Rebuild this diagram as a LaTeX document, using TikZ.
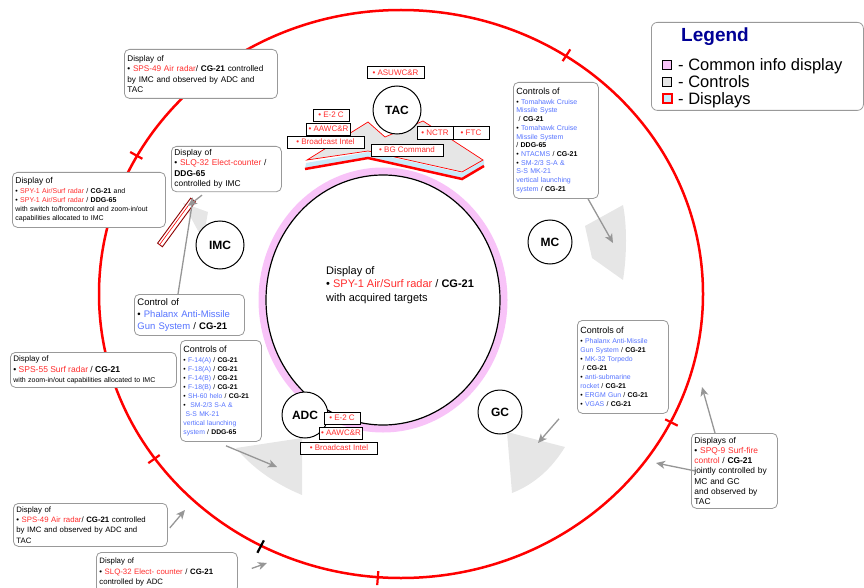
\documentclass[tikz,border=0pt]{standalone}
\usepackage{fontspec}
\setmainfont{Liberation Sans}
\usetikzlibrary{arrows.meta,shapes.geometric,calc}
\definecolor{dred}{RGB}{255,45,45}
\definecolor{cblue}{RGB}{85,115,255}
\definecolor{legblue}{RGB}{0,0,150}
\definecolor{wedgegray}{RGB}{230,230,230}
\definecolor{arrgray}{RGB}{150,150,150}
\definecolor{pinkring}{RGB}{248,195,248}
\definecolor{ltblue}{RGB}{200,235,250}
\definecolor{darkred}{RGB}{140,0,0}
\newcommand\rd[1]{\textcolor{dred}{#1}}
\newcommand\bu[1]{\textcolor{cblue}{#1}}
\newcommand\bb[1]{\textbf{#1}}
\newcommand\fs[2]{\fontsize{#1}{#2}\selectfont}
\begin{document}
\begin{tikzpicture}[x=1pt,y=-1pt,
  callout/.style={draw=gray!80, line width=0.8pt, rounded corners=5pt, fill=white,
    align=left, anchor=north west, inner xsep=3pt, inner ysep=3pt},
  unit/.style={circle, draw=black, line width=1pt, fill=white, minimum size=#1,
    inner sep=0pt, font=\bfseries\fontsize{12}{13}\selectfont},
  lab/.style={draw=black, line width=0.9pt, fill=white, inner xsep=2pt, inner ysep=1.5pt,
    font=\fontsize{8}{9}\selectfont, text=dred},
  garrow/.style={draw=arrgray, line width=1.3pt, -{Stealth[length=9pt,width=8pt,inset=2.5pt]}},
  wedge/.style={fill=wedgegray, draw=none},
  tick/.style={line width=2.2pt},
  legtext/.style={anchor=base west, font=\fontsize{16.5}{18}\selectfont, inner sep=0pt}
]
\useasboundingbox (0,0) rectangle (864,588);

% outer red ellipse
\draw[red, line width=2.5pt] (401,294) ellipse [x radius=302, y radius=284];
\foreach \a in {-56.9,-150.9,144.6,94.4,26.8}
  \draw[tick, red] ($(401,294)+(\a:296 and 278)$) -- ($(401,294)+(\a:310 and 292)$);
\foreach \a in {-123.4,117.6}
  \draw[tick, black] ($(401,294)+(\a:296 and 278)$) -- ($(401,294)+(\a:310 and 292)$);

% wedges (controls)
\fill[wedge] (183,203) -- (208,212) -- (203,240) -- cycle;
\fill[wedge] (585,226) -- (623,205) .. controls (627,225) and (627,255) .. (623,280) -- (592,258) -- cycle;
\fill[wedge] (507,432) -- (565,447) .. controls (552,468) and (535,484) .. (512,493) -- cycle;
\fill[wedge] (236,448) -- (302,438) -- (302,495) .. controls (278,485) and (254,470) .. (236,448) -- cycle;

% central common info display
\draw[pinkring, line width=7pt] (383,300) ellipse [x radius=121, y radius=129];
\draw[black, line width=1.2pt] (383,300) ellipse [x radius=117, y radius=125];
\node[anchor=north west, align=left, font=\fs{11}{13.5}, inner sep=0pt] (center) at (326,266)
  {Display of\\ • \rd{SPY-1 Air/Surf radar} / \bb{CG-21}\\ with acquired targets};

% TAC platform
\fill[ltblue] (306,163) -- (368,152) -- (462,173) -- (484,160) -- (484,166) -- (462,179) -- (368,158) -- (305,169) -- cycle;
\draw[red, line width=2.5pt] (305,169) -- (368,158) -- (462,179) -- (484,166);
\filldraw[fill=wedgegray, draw=red, line width=0.7pt] (307,160) -- (368,122) -- (385,137) -- (423,121) -- (483,160) -- (462,172) -- (368,151) -- cycle;

% IMC display bar
\draw[darkred, line width=0.9pt, fill=white] (157.6,243.2) -- (190.6,198.2) -- (195.4,201.8) -- (162.4,246.8) -- cycle;
\draw[red, line width=0.6pt] (159.6,244.7) -- (192.6,199.7);

% unit circles
\node[unit=48pt] (tac) at (397,110) {TAC};
\node[unit=48pt] (imc) at (220,245) {IMC};
\node[unit=44pt] (mc) at (550,242) {MC};
\node[unit=44pt] (gc) at (500,412) {GC};
\node[unit=46pt] (adc) at (305,415) {ADC};

% TAC labels
\node[lab, minimum width=57pt, minimum height=12pt] (asuwc) at (395.5,72.5) {• ASUWC\&R};
\node[lab, minimum width=36pt, minimum height=12pt] (e2ct) at (331,115) {• E-2 C};
\node[lab, minimum width=43pt, minimum height=12pt] (aawct) at (328.5,129) {• AAWC\&R};
\node[lab, minimum width=77pt, minimum height=12pt] (bit) at (325.5,142) {• Broadcast Intel};
\node[lab, minimum width=72pt, minimum height=12pt] (bgc) at (407,150) {• BG Command};
\node[lab, minimum width=36pt, minimum height=13pt] (nctr) at (435,132.5) {• NCTR};
\node[lab, minimum width=36pt, minimum height=13pt] (ftc) at (471,132.5) {• FTC};

% ADC labels
\node[lab, minimum width=36pt, minimum height=12pt] (e2ca) at (342,418) {• E-2 C};
\node[lab, minimum width=43pt, minimum height=12pt] (aawca) at (341,433) {• AAWC\&R};
\node[lab, minimum width=77pt, minimum height=12pt] (bia) at (339,448) {• Broadcast Intel};

% callouts
\node[callout, text width=147pt, minimum height=49pt, font=\fs{8.2}{10.5}] (sps49t) at (124,49)
  {Display of\\ • \rd{SPS-49 Air radar}/ \bb{CG-21} controlled\\ by IMC and observed by ADC and\\ TAC};
\node[callout, text width=104pt, minimum height=45pt, font=\fs{8.4}{10.5}] (slq32i) at (171,146)
  {Display of\\ • \rd{SLQ-32 Elect-counter} /\\ \bb{DDG-65}\\ controlled by IMC};
\node[callout, text width=147pt, minimum height=55pt, font=\fs{7}{9}] (spy1l) at (12,172)
  {{\fs{8.5}{9}Display of}\\[1pt] • \rd{SPY-1 Air/Surf radar} / \bb{CG-21} and\\ • \rd{SPY-1 Air/Surf radar} / \bb{DDG-65}\\ with switch to/fromcontrol and zoom-in/out\\ capabilities allocated to IMC};
\node[callout, text width=79pt, minimum height=116pt, font=\fs{7}{8.7}] (mcc) at (513,82)
  {{\fs{9}{9}Controls of}\\[1pt] • \bu{Tomahawk Cruise}\\ \bu{Missile Syste}\\ \ / \bb{CG-21}\\ • \bu{Tomahawk Cruise}\\ \bu{Missile System}\\ / \bb{DDG-65}\\ • \bu{NTACMS} / \bb{CG-21}\\ • \bu{SM-2/3 S-A \&}\\ \bu{S-S MK-21}\\ \bu{vertical launching}\\ \bu{system} / \bb{CG-21}};
\node[callout, text width=104pt, minimum height=41pt, font=\fs{9.5}{12}] (phal) at (134,294)
  {Control of\\ • \bu{Phalanx Anti-Missile}\\ \bu{Gun System} / \bb{CG-21}};
\node[callout, text width=75pt, minimum height=101pt, font=\fs{6.8}{9}] (adcc) at (180,340)
  {{\fs{9}{9}Controls of}\\[0.5pt] • \bu{F-14(A)} / \bb{CG-21}\\ • \bu{F-18(A)} / \bb{CG-21}\\ • \bu{F-14(B)} / \bb{CG-21}\\ • \bu{F-18(B)} / \bb{CG-21}\\ • \bu{SH-60 helo} / \bb{CG-21}\\ •\ \ \bu{SM-2/3 S-A \&}\\ \ \bu{S-S MK-21}\\ \bu{vertical launching}\\ \bu{system} / \bb{DDG-65}};
\node[callout, text width=85pt, minimum height=93pt, font=\fs{6.9}{9}] (gcc) at (577,320)
  {{\fs{9}{9}Controls of}\\[1pt] • \bu{Phalanx Anti-Missile}\\ \bu{Gun System} / \bb{CG-21}\\ • \bu{MK-32 Torpedo}\\ \ / \bb{CG-21}\\ • \bu{anti-submarine}\\ \bu{rocket} / \bb{CG-21}\\ • \bu{ERGM Gun} / \bb{CG-21}\\ • \bu{VGAS} / \bb{CG-21}};
\node[callout, text width=160pt, minimum height=35pt, font=\fs{7}{10.5}] (sps55) at (10,352)
  {{\fs{8}{9}Display of}\\ {\fs{8.5}{9}• \rd{SPS-55 Surf radar} / \bb{CG-21}}\\ with zoom-in/out capabilities allocated to IMC};
\node[callout, text width=148pt, minimum height=43pt, font=\fs{7.8}{10.3}] (sps49b) at (13,503)
  {Display of\\ • \rd{SPS-49 Air radar}/ \bb{CG-21} controlled\\ by IMC and observed by ADC and\\ TAC};
\node[callout, text width=135pt, minimum height=40pt, font=\fs{7.8}{10.5}] (slq32b) at (96,552)
  {Display of\\ • \rd{SLQ-32 Elect- counter} / \bb{CG-21}\\ controlled by ADC};
\node[callout, text width=80pt, minimum height=75pt, font=\fs{8.4}{10.3}] (spq9) at (691,433)
  {Displays of\\ • \rd{SPQ-9 Surf-fire}\\ \rd{control} / \bb{CG-21}\\ jointly controlled by\\ MC and GC\\ and observed by\\ TAC};

% arrows
\coordinate (tadc) at (277,467);
\coordinate (tgc) at (538,443);
\coordinate (tmc) at (613,243);
\coordinate (timc) at (188,206);
\coordinate (tphal) at (192,205);
\coordinate (tspq) at (656,463);
\coordinate (tspq2) at (702,387);
\coordinate (tsps49b) at (185,510);
\coordinate (tslq32b) at (267,563);
\draw[garrow] ($(adcc.south west)+(46,4)$) -- (tadc);
\draw[garrow] ($(gcc.south west)+(-18,5)$) -- (tgc);
\draw[garrow] ($(mcc.south west)+(75,0)$) -- (tmc);
\draw[garrow] ($(slq32i.south west)+(31,3)$) -- (timc);
\draw[draw=arrgray, line width=1.3pt] ($(phal.north west)+(44,0)$) -- (tphal);
\draw[garrow] ($(spq9.west)+(4,0)$) -- (tspq);
\draw[garrow] ($(spq9.north west)+(24,0)$) -- (tspq2);
\draw[garrow] ($(sps49b.east)+(2,3)$) -- (tsps49b);
\draw[garrow] ($(slq32b.east)+(14,-4)$) -- (tslq32b);

% legend
\node[draw=gray!80, line width=0.8pt, rounded corners=6pt, fill=white, anchor=north west,
  minimum width=212pt, minimum height=88pt] (legend) at (651,22) {};
\node[font=\bfseries\fontsize{19}{22}\selectfont, text=legblue] (legtitle) at (715,37) {Legend};
\node[draw=black, fill=pinkring, minimum size=9pt, inner sep=0pt, line width=0.8pt] (lsq1) at (667,65) {};
\node[draw=black, fill=wedgegray, minimum size=9pt, inner sep=0pt, line width=0.8pt] (lsq2) at (667,82) {};
\node[draw=red, fill=ltblue, minimum size=9pt, inner sep=0pt, line width=2pt] (lsq3) at (667,99) {};
\node[legtext] (lt1) at (678,71) {- Common info display};
\node[legtext] (lt2) at (678,87.5) {- Controls};
\node[legtext] (lt3) at (678,104.5) {- Displays};
\end{tikzpicture}
\end{document}
